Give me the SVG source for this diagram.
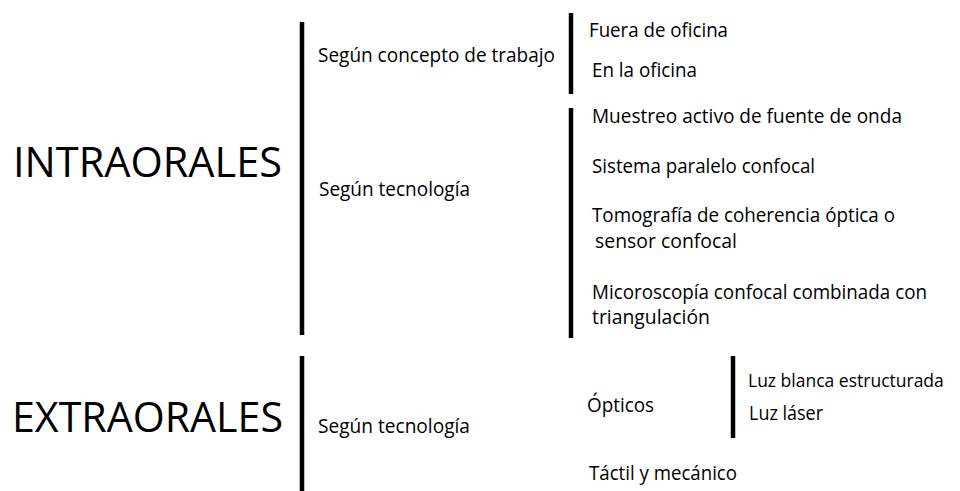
<svg xmlns="http://www.w3.org/2000/svg" width="960" height="491" viewBox="0 0 960 491">
<style>
text{font-family:"Open Sans","Noto Sans","Liberation Sans",sans-serif;fill:#000}
.big{font-size:42px}
.sm{font-size:19.5px}
.bar{stroke:#000;stroke-width:4.5;fill:none}
</style>
<rect width="960" height="491" fill="#fff"/>
<g id="connectors">
<line class="bar" x1="302" y1="22" x2="302" y2="335"/>
<line class="bar" x1="302" y1="356" x2="302" y2="491"/>
<line class="bar" x1="571" y1="13" x2="571" y2="94"/>
<line class="bar" x1="571" y1="108" x2="571" y2="338"/>
<line class="bar" x1="733" y1="356" x2="733" y2="438"/>
</g>
<g id="intraorales"><text class="big" x="13" y="177" textLength="269" lengthAdjust="spacingAndGlyphs">INTRAORALES</text></g>
<g id="extraorales"><text class="big" x="12" y="432" textLength="271" lengthAdjust="spacingAndGlyphs">EXTRAORALES</text></g>
<g id="concepto"><text class="sm" x="318" y="62" textLength="237" lengthAdjust="spacingAndGlyphs">Según concepto de trabajo</text></g>
<g id="fuera"><text class="sm" x="589" y="37" textLength="139" lengthAdjust="spacingAndGlyphs">Fuera de oficina</text></g>
<g id="en"><text class="sm" x="592" y="77" textLength="105" lengthAdjust="spacingAndGlyphs">En la oficina</text></g>
<g id="tec-intra"><text class="sm" x="319" y="196" textLength="151" lengthAdjust="spacingAndGlyphs">Según tecnología</text></g>
<g id="muestreo"><text class="sm" x="592" y="123" textLength="310" lengthAdjust="spacingAndGlyphs">Muestreo activo de fuente de onda</text></g>
<g id="sistema"><text class="sm" x="592" y="173" textLength="223" lengthAdjust="spacingAndGlyphs">Sistema paralelo confocal</text></g>
<g id="tomografia"><text class="sm" x="592" y="222" textLength="303" lengthAdjust="spacingAndGlyphs">Tomografía de coherencia óptica o</text><text class="sm" x="595" y="248" textLength="142" lengthAdjust="spacingAndGlyphs">sensor confocal</text></g>
<g id="microscopia"><text class="sm" x="592" y="299" textLength="335" lengthAdjust="spacingAndGlyphs">Micoroscopía confocal combinada con</text><text class="sm" x="592" y="324" textLength="118" lengthAdjust="spacingAndGlyphs">triangulación</text></g>
<g id="tec-extra"><text class="sm" x="318" y="433" textLength="152" lengthAdjust="spacingAndGlyphs">Según tecnología</text></g>
<g id="opticos"><text class="sm" x="587" y="412" textLength="67" lengthAdjust="spacingAndGlyphs">Ópticos</text></g>
<g id="luzblanca"><text x="748" y="387" font-size="17.5">Luz blanca estructurada</text></g>
<g id="luzlaser"><text class="sm" x="749" y="420" textLength="74" lengthAdjust="spacingAndGlyphs">Luz láser</text></g>
<g id="tactil"><text class="sm" x="589" y="480" textLength="148" lengthAdjust="spacingAndGlyphs">Táctil y mecánico</text></g>
</svg>
